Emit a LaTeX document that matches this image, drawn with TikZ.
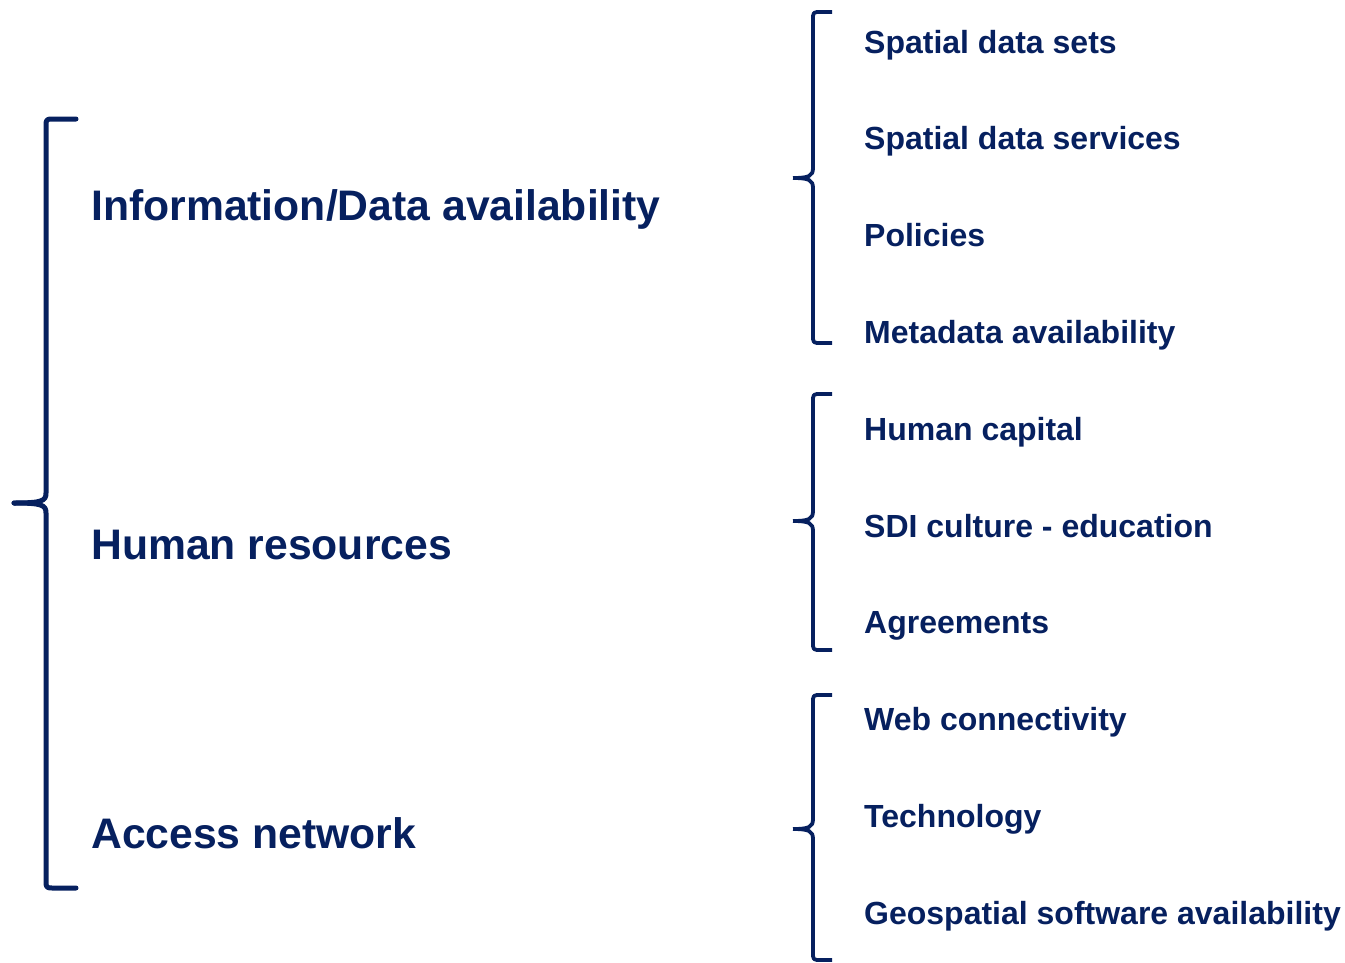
\documentclass[tikz,border=0pt]{standalone}
\usepackage{fontspec}
\setmainfont{Liberation Sans}
\definecolor{navy}{HTML}{06205F}
\tikzset{
  x=1pt, y=-1pt,
  bigbrace/.style={draw=navy, line width=5pt, line cap=round, line join=round},
  smallbrace/.style={draw=navy, line width=3.8pt, line cap=butt, line join=round},
  biglabel/.style={anchor=base west, inner sep=0pt, text=navy, font=\fontsize{42.7}{50}\selectfont\bfseries},
  smalllabel/.style={anchor=base west, inner sep=0pt, text=navy, font=\fontsize{32}{38}\selectfont\bfseries},
}
% #1 vertical x, #2 tick end x, #3 tip x, #4 top y, #5 mid y, #6 bottom y, #7 style
\newcommand\drawmybrace[7]{%
  \draw[#7] (#2,#4) -- ({#1+8},#4) .. controls (#1,#4) .. (#1,{#4+8})
    -- (#1,{#5-10}) .. controls (#1,{#5-2}) and ({#1-4},#5) .. (#3,#5);
  \draw[#7] (#2,#6) -- ({#1+8},#6) .. controls (#1,#6) .. (#1,{#6-8})
    -- (#1,{#5+10}) .. controls (#1,{#5+2}) and ({#1-4},#5) .. (#3,#5);
}
\begin{document}
\begin{tikzpicture}
\useasboundingbox (0,0) rectangle (1345,962);
\drawmybrace{46}{76}{14}{119}{503}{888}{bigbrace}
\drawmybrace{813}{832}{793}{12}{178}{343}{smallbrace}
\drawmybrace{813}{832}{793}{394}{521}{650}{smallbrace}
\drawmybrace{813}{832}{793}{695}{829}{960}{smallbrace}

\node[biglabel] (l1) at (91,220) {Information/Data availability};
\node[biglabel] (l2) at (91,559) {Human resources};
\node[biglabel] (l3) at (91,848) {Access network};

\node[smalllabel] (s1) at (864,53) {Spatial data sets};
\node[smalllabel] (s2) at (864,149) {Spatial data services};
\node[smalllabel] (s3) at (864,246) {Policies};
\node[smalllabel] (s4) at (864,343) {Metadata availability};
\node[smalllabel] (s5) at (864,440) {Human capital};
\node[smalllabel] (s6) at (864,537) {SDI culture - education};
\node[smalllabel] (s7) at (864,633) {Agreements};
\node[smalllabel] (s8) at (864,730) {Web connectivity};
\node[smalllabel] (s9) at (864,827) {Technology};
\node[smalllabel] (s10) at (864,924) {Geospatial software availability};
\end{tikzpicture}
\end{document}
